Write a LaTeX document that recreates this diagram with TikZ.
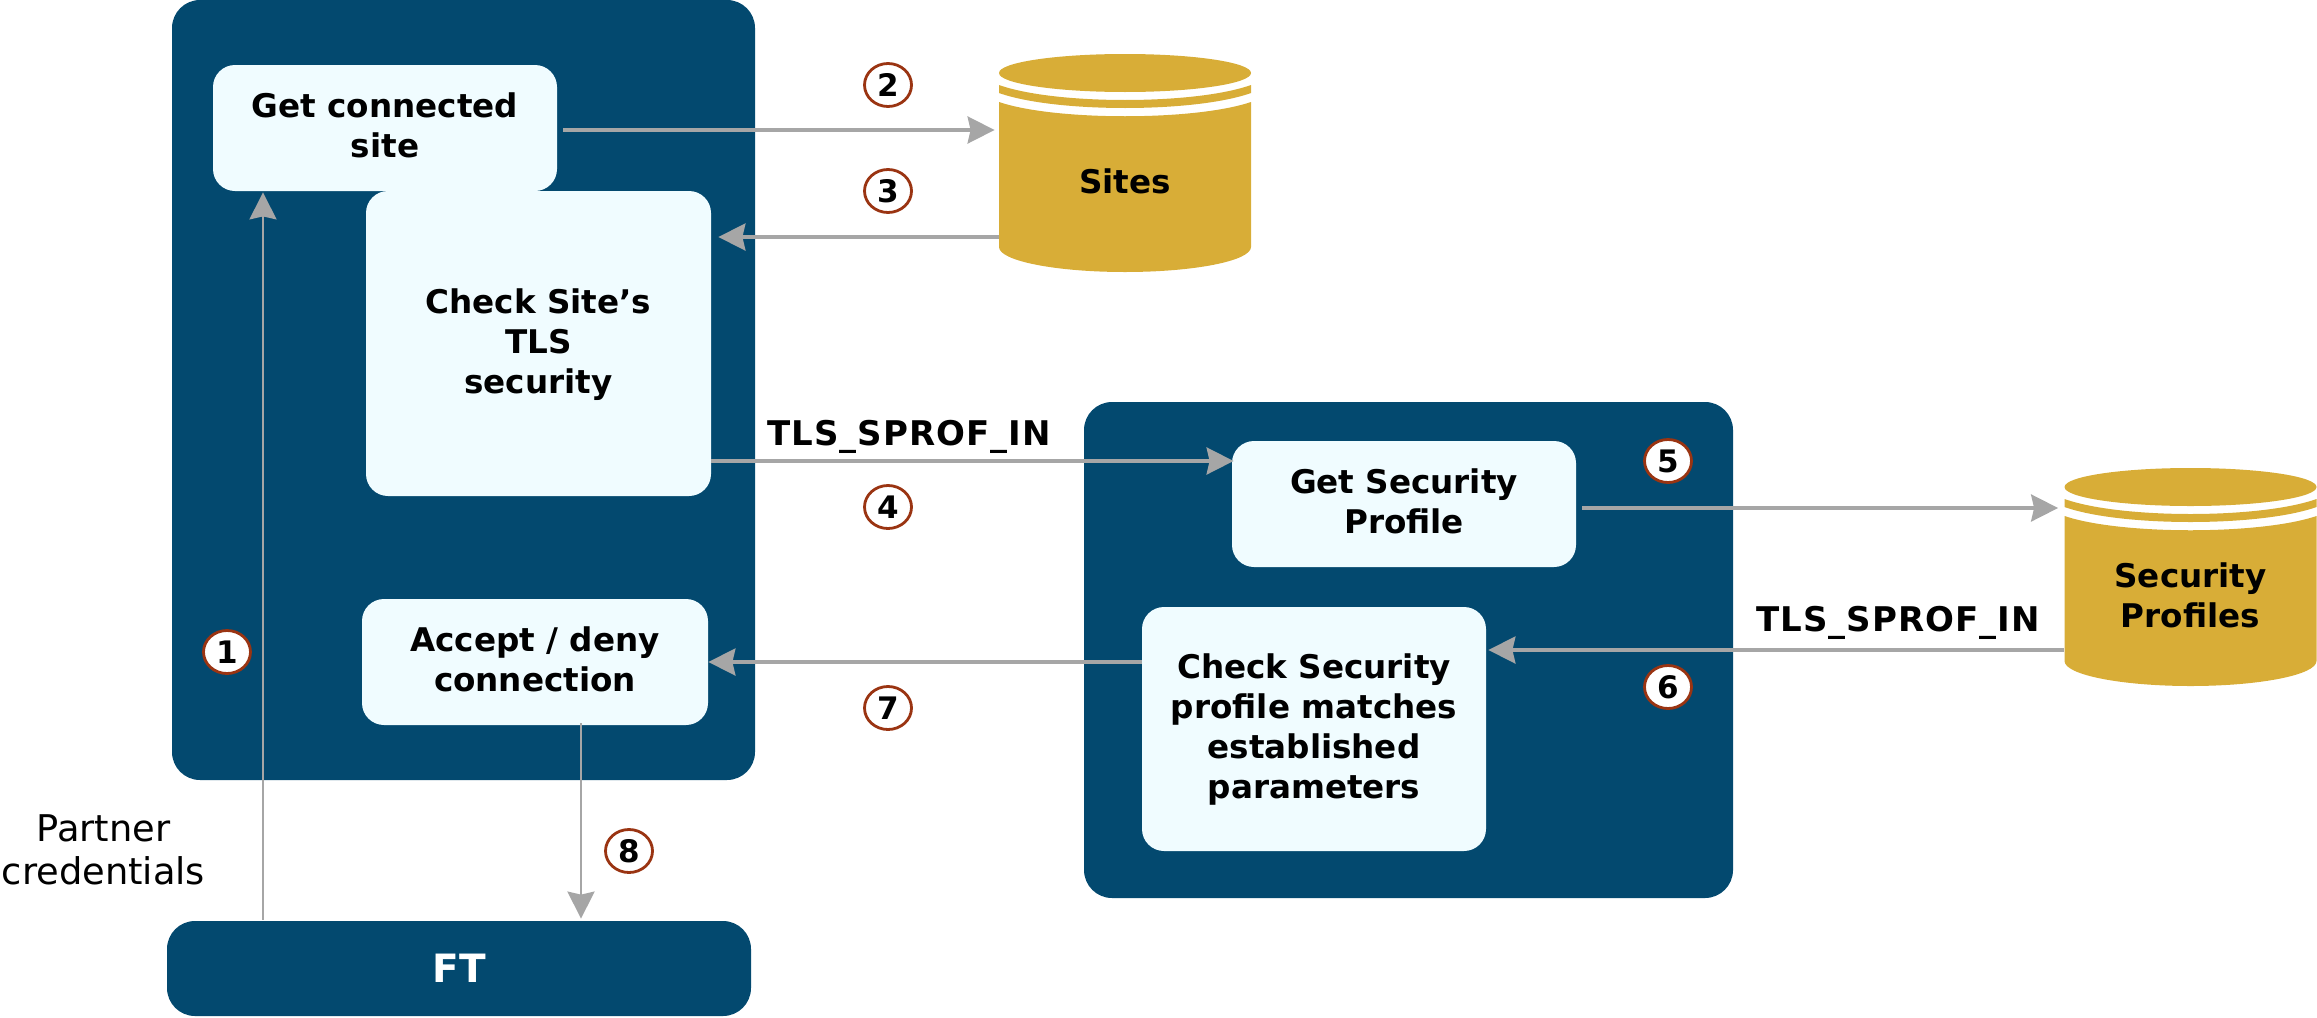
\documentclass[tikz,border=0pt]{standalone}
\usepackage{fontspec}
\setmainfont{DejaVu Sans}
\usetikzlibrary{arrows.meta,shapes.geometric}
\definecolor{boxblue}{HTML}{03496F}
\definecolor{boxlight}{HTML}{F0FCFF}
\definecolor{dbgold}{HTML}{D8AD37}
\definecolor{flowgray}{HTML}{A6A6A6}
\definecolor{badgered}{HTML}{9A3412}
\tikzset{
  panel/.style={fill=boxblue,rounded corners=14pt,inner sep=0pt},
  stepbox/.style={fill=boxlight,rounded corners=11pt,inner sep=0pt,align=center,text depth=2.5pt,font=\fontsize{16.3}{20}\selectfont\bfseries},
  dbbox/.style={minimum width=126pt,minimum height=109pt,inner sep=0pt},
  dbtext/.style={align=center,font=\fontsize{16.3}{20}\selectfont\bfseries},
  flowlabel/.style={font=\fontsize{17}{20}\addfontfeature{LetterSpace=3}\selectfont\bfseries},
  badge/.style={draw=badgered,line width=1.4pt,fill=white,ellipse,inner sep=0pt,minimum width=23.5pt,minimum height=21.5pt,font=\fontsize{15.5}{15.5}\selectfont\bfseries},
  flow/.style={draw=flowgray,line width=1.7pt,-{Stealth[length=13.5pt,width=13.5pt,inset=1.5pt]}},
  thinflow/.style={flow,line width=1.15pt}
}
% cylinder: name, centre x, top y, text
\newcommand{\dbcylinder}[4]{
\begin{scope}[shift={(#2,#3)}]
\fill[dbgold] (0,19) ellipse [x radius=126,y radius=19];
\fill[dbgold] (-126,31) .. controls (-70,51) and (70,51) .. (126,31) -- (126,39) .. controls (70,59) and (-70,59) .. (-126,39) -- cycle;
\fill[dbgold] (-126,48) .. controls (-70,67) and (70,67) .. (126,48) -- (126,193) arc [start angle=0,end angle=180,x radius=126,y radius=25] -- cycle;
\node[dbbox] (#1) at (0,109) {};
\node[dbtext] (#1text) at (0,127) {#4};
\end{scope}
}
\begin{document}
\begin{tikzpicture}[x=0.5pt,y=-0.5pt]
\useasboundingbox (0,0) rectangle (2317,1017);
\node[panel,minimum width=291.5pt,minimum height=390pt] (sitepanel) at (463.5,390) {};
\node[panel,minimum width=324.5pt,minimum height=248pt] (profpanel) at (1408.5,650) {};
\node[panel,minimum width=292pt,minimum height=47.5pt,text=white,font=\fontsize{19.5}{20}\selectfont\bfseries] (ftbox) at (459,968.5) {FT};
\node[stepbox,minimum width=172pt,minimum height=63pt] (getsite) at (385,128) {Get connected\\site};
\node[stepbox,minimum width=172.5pt,minimum height=152.5pt] (checksite) at (538.5,343.5) {Check Site’s\\TLS\\security};
\node[stepbox,minimum width=173pt,minimum height=63pt] (acceptconn) at (535,662) {Accept / deny\\connection};
\node[stepbox,minimum width=172pt,minimum height=63pt] (getprof) at (1404,504) {Get Security\\Profile};
\node[stepbox,minimum width=172pt,minimum height=122pt] (checkprof) at (1314,729) {Check Security\\profile matches\\established\\parameters};
\dbcylinder{sites}{1125}{54}{Sites}
\dbcylinder{profiles}{2190.5}{468}{Security\\Profiles}
\draw[thinflow] ([xshift=-98pt,yshift=0.5pt]ftbox.north) -- ([xshift=-61pt,yshift=-0.5pt]getsite.south);
\draw[flow] ([xshift=3pt,yshift=-1pt]getsite.east) -- ([xshift=-2pt,yshift=16.5pt]sites.west);
\draw[flow] ([yshift=-37pt]sites.west) -- ([xshift=3.5pt,yshift=53.25pt]checksite.east);
\draw[flow] ([yshift=-58.75pt]checksite.east) -- ([xshift=1pt,yshift=21.5pt]getprof.west);
\draw[flow] ([xshift=3pt,yshift=-2pt]getprof.east) -- ([xshift=-3pt,yshift=34.5pt]profiles.west);
\draw[flow] ([yshift=-36.5pt]profiles.west) -- ([xshift=1pt,yshift=39.5pt]checkprof.east);
\draw[flow] ([yshift=33.5pt]checkprof.west) -- (acceptconn.east);
\draw[thinflow,line width=1.3pt] ([xshift=23pt,yshift=1pt]acceptconn.south) -- ([xshift=61pt,yshift=1pt]ftbox.north);
\node[flowlabel] (tlsout) at (909,437) {TLS\_SPROF\_IN};
\node[flowlabel] (tlsback) at (1898,623) {TLS\_SPROF\_IN};
\node[align=center,font=\fontsize{18.4}{21.5}\selectfont] (partner) at (103.5,850) {Partner\\credentials};
\node[badge] (one) at (227,652) {1};
\node[badge] (two) at (888,85) {2};
\node[badge] (three) at (888,191) {3};
\node[badge] (four) at (888,507) {4};
\node[badge] (five) at (1668,461) {5};
\node[badge] (six) at (1668,687) {6};
\node[badge] (seven) at (888,708) {7};
\node[badge] (eight) at (629,851) {8};
\end{tikzpicture}
\end{document}
